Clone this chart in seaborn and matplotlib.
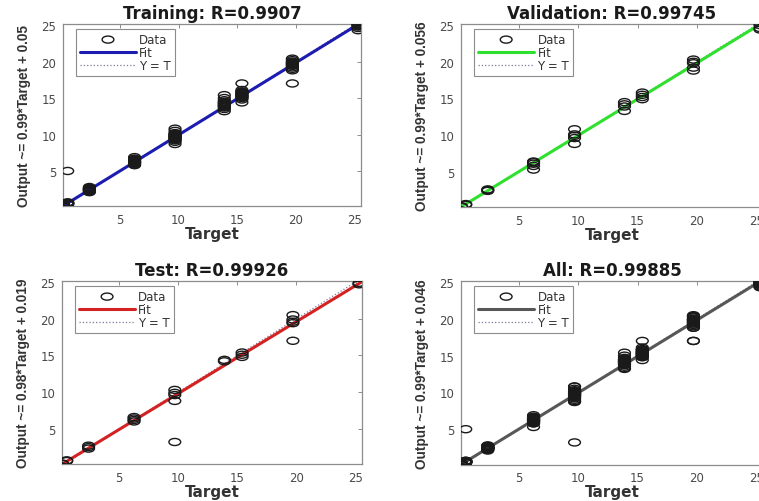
import numpy as np
import pandas as pd
import matplotlib
matplotlib.use("Agg")
import matplotlib.pyplot as plt
from matplotlib.path import Path
import seaborn as sns

# ---------------- data ----------------
target_levels = [0.2, 0.55, 2.4, 6.25, 9.7, 13.9, 15.4, 19.7, 25.3]

train_outputs = [
    [0.1, 0.15, 0.2, 0.25, 0.3, 0.35, 0.2, 0.28],
    [0.4, 0.5, 0.55, 0.6, 0.7, 0.65, 5.0],
    [2.1, 2.2, 2.3, 2.35, 2.4, 2.45, 2.5, 2.55, 2.6, 2.7, 2.8],
    [5.8, 5.9, 6.0, 6.1, 6.15, 6.2, 6.25, 6.3, 6.4, 6.5, 6.6, 6.7, 6.9],
    [8.7, 9.0, 9.2, 9.3, 9.4, 9.5, 9.6, 9.7, 9.75, 9.8, 9.9, 10.0, 10.1, 10.2, 10.5, 10.8],
    [13.2, 13.5, 13.7, 13.8, 13.9, 14.0, 14.1, 14.2, 14.3, 14.4, 14.5, 14.7, 15.0, 15.4],
    [14.4, 14.8, 15.0, 15.1, 15.2, 15.3, 15.4, 15.5, 15.6, 15.7, 15.8, 15.9, 16.1, 17.0],
    [17.0, 18.8, 19.0, 19.2, 19.4, 19.5, 19.6, 19.7, 19.8, 19.9, 20.0, 20.2, 20.4],
    [24.3, 24.6, 24.8, 24.9, 25.0, 25.1, 25.2, 25.4],
]
val_outputs = [
    [0.2, 0.3],
    [0.5, 0.6],
    [2.4, 2.5, 2.6],
    [5.3, 5.8, 6.1, 6.3, 6.4],
    [8.8, 9.6, 9.9, 10.1, 10.8],
    [13.3, 13.9, 14.2, 14.5],
    [14.9, 15.2, 15.5, 15.8],
    [18.8, 19.2, 19.8, 20.0, 20.3],
    [24.4, 24.6, 25.0, 25.3],
]
test_outputs = [
    [0.2, 0.25],
    [0.6, 0.7],
    [2.3, 2.5, 2.7],
    [6.0, 6.2, 6.4, 6.6],
    [3.2, 8.8, 9.6, 9.9, 10.3],
    [14.2, 14.4],
    [14.8, 15.1, 15.4],
    [17.0, 19.4, 19.6, 19.9, 20.5],
    [24.7, 24.9, 25.6],
]

titles = ["Training: R=0.9907", "Validation: R=0.99745", "Test: R=0.99926", "All: R=0.99885"]
fit_slopes = [0.99, 0.99, 0.98, 0.99]
fit_intercepts = [0.05, 0.056, 0.019, 0.046]
ylabels = ["Output ~= 0.99*Target + 0.05", "Output ~= 0.99*Target + 0.056",
           "Output ~= 0.98*Target + 0.019", "Output ~= 0.99*Target + 0.046"]
fit_colors = ["#1c1cb0", "#2fe02f", "#d42222", "#575757"]
tick_values = [5, 10, 15, 20, 25]
x_limits = (0.15, 25.55)
y_limits = (0.2, 25.15)


def make_frame(outputs_by_level):
    rows = []
    for t, outs in zip(target_levels, outputs_by_level):
        for o in outs:
            rows.append({"Target": t, "Output": o})
    return pd.DataFrame(rows)


frames = [make_frame(train_outputs), make_frame(val_outputs), make_frame(test_outputs)]
frames.append(pd.concat(frames, ignore_index=True))

# ---------------- style ----------------
sns.set_style("white")
plt.rcParams["font.family"] = ["DejaVu Sans"]

fig = plt.figure(figsize=(7.59, 5.02), dpi=100)
W, H = 759.0, 502.0
boxes = [  # left, top, right, bottom in pixels
    (63, 25, 361, 207),
    (461, 25, 763, 208),
    (62, 282, 362, 465),
    (461, 282, 763, 465.5),
]

circ = Path.unit_circle()
ellipse = Path(circ.vertices * np.array([1.0, 0.6]), circ.codes)

spine_col = "#8c8c8c"

for i, (l, t, r, b) in enumerate(boxes):
    ax = fig.add_axes([l / W, 1 - b / H, (r - l) / W, (b - t) / H])
    df = frames[i]
    xs = list(x_limits)
    fit_y = [fit_slopes[i] * v + fit_intercepts[i] for v in xs]
    sns.lineplot(x=xs, y=xs, ax=ax, color="#7a7a9a", linewidth=0.9,
                 linestyle=":", label="Y = T", zorder=2)
    sns.lineplot(x=xs, y=fit_y, ax=ax, color=fit_colors[i], linewidth=2.2,
                 label="Fit", zorder=3)
    sns.scatterplot(data=df, x="Target", y="Output", ax=ax, marker=ellipse,
                    s=72, facecolor="none", edgecolor="#1a1a1a", linewidth=1.0,
                    label="Data", zorder=4)

    ax.set_xlim(*x_limits)
    ax.set_ylim(*y_limits)
    ax.set_xticks(tick_values)
    ax.set_yticks(tick_values)
    ax.tick_params(direction="in", length=3, width=0.7, color=spine_col,
                   top=True, right=True, labelsize=8.5, labelcolor="#4a4a4a", pad=5)
    for sp in ax.spines.values():
        sp.set_color(spine_col)
        sp.set_linewidth(0.9)
        sp.set_visible(True)

    ax.set_title(titles[i], fontsize=12, fontweight="bold", pad=4, color="#1a1a1a")
    ax.set_xlabel("Target", fontsize=11, fontweight="bold", color="#333333", labelpad=0)
    ax.set_ylabel(ylabels[i], fontsize=9.8, fontweight="bold", color="#333333",
                  family=["Liberation Sans", "DejaVu Sans"], labelpad=7)

    handles, labels = ax.get_legend_handles_labels()
    order = [labels.index("Data"), labels.index("Fit"), labels.index("Y = T")]
    leg = ax.legend([handles[k] for k in order], [labels[k] for k in order],
                    loc="upper left", bbox_to_anchor=(0.044, 0.975), borderaxespad=0,
                    fontsize=8.5, frameon=True, fancybox=False, edgecolor=spine_col,
                    framealpha=1, handlelength=4.7, handletextpad=0.3,
                    labelspacing=0.0, borderpad=0.35, scatterpoints=1)
    leg.get_frame().set_linewidth(0.8)
    for txt in leg.get_texts():
        txt.set_color("#333333")

fig.savefig("out.png", dpi=100, facecolor="white")
